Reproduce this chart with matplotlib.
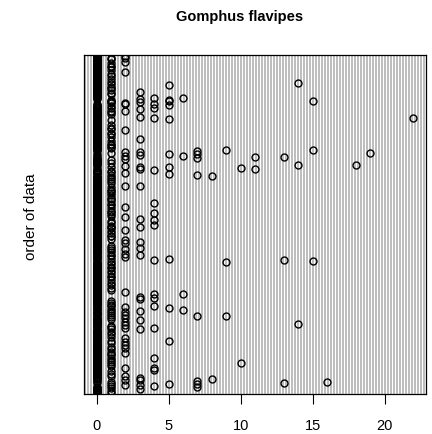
import matplotlib
matplotlib.use("Agg")
import matplotlib.pyplot as plt

plt.rcParams['font.family'] = ['Liberation Sans', 'DejaVu Sans']

# 0/1 counts for each row, bottom row first (rows listed in high_rows override these)
low_pattern = """
0010 0001 0000 1000 0010 0100 0001 0000 1001 0000 0100 0010 0000
1000 0010 0001 0000 0100 1000 0010 0001 0000 0100 1001 0000 0010
0001 0000 1000 0100 0010 0000 1001 0000 0100 0010 0000 1000 0101
0000 1000 0010 0001 0000 0100 1000 0010 0001 0010 0000 0100 1000
0100 0010 0000 1001 0000 0010 0100 0001 0000 1000 0100 0001 0000
0010 0000 0100 1000 0010 0001 0000 0100 1000 0010 0001 0000 1001
0000 0100 1000 0010 0001 0000 1000 0100 0010 0000 0101 0000 0010
1000 0010 0001 0000 0100 1001 0000 0010 0100 0001 0000 1000 0010
0001 0100 0000 1000 0010 0100 0001 0000 1001 0000 0100 0010 0001
0100 0001 0010 0000 1000 0100 0010 0001 0000 1000 0010 0100 0000
0010 1000 0001 0000 0100 0010 1000 0000 0101 0000 1000 0010 0100
1001 0000 0100 0010 0000 1000 0001 0100 0000 0010 1000 0001 0000
0000 0010 1000 0100 0001 0000 0100 1000 0010 0001 0000 0100 1001
0100 1000 0000 0010 0100 0001 0000 1001 0000 0100 0010 0000 1000
0001 0000 0100 1000 0010 0000 1001 0000 0100 1000 0001 0010 0000
"""

# rows (1 = first observation) holding counts of 2 and more
high_rows = {
    2: [779, 773, 765, 741, 671, 668, 651, 609, 557, 549, 542, 525, 509, 479,
        431, 407, 378, 354, 347, 335, 323, 315, 234, 201, 189, 182, 174, 167,
        159, 152, 129, 120, 113, 105, 95, 60, 41, 33, 21],
    3: [696, 680, 672, 657, 638, 587, 558, 551, 524, 518, 480, 404, 384, 350,
        336, 320, 224, 219, 191, 170, 150, 36, 32, 20, 11],
    4: [683, 669, 660, 635, 516, 440, 416, 402, 389, 309, 231, 221, 203, 153,
        83, 59, 56, 18],
    5: [711, 677, 674, 665, 633, 554, 522, 506, 311, 197, 122, 23],
    6: [681, 548, 230, 194],
    7: [560, 552, 543, 504, 180, 30, 24, 17],
    8: [503, 35],
    9: [561, 305, 179],
    10: [521, 71],
    11: [546, 519],
    13: [545, 308, 26],
    14: [717, 527, 161],
    15: [675, 563, 306],
    16: [27],
    18: [528],
    19: [555],
    22: [636],
}

counts = [int(c) for c in "".join(low_pattern.split())]
for value, rows in high_rows.items():
    for r in rows:
        counts[r - 1] = value
n = len(counts)
order = list(range(1, n + 1))

fig = plt.figure(figsize=(4.32, 4.34), dpi=100)
ax = fig.add_axes([84 / 432, 40 / 434, 342 / 432, 339 / 434])

xmin, xmax = -0.88, 22.88
# dotted guide line for every row, like dotchart()
ax.hlines(order, xmin, xmax, colors='#bebebe', linewidth=0.72,
          linestyles=(0, (1.5, 1.5)), antialiased=False, zorder=1)
ax.plot(counts, order, 'o', ms=5.0, mfc='none', mec='black', mew=1.0,
        linestyle='none', zorder=2)

ax.set_xlim(xmin, xmax)
ax.set_ylim(0, n + 1)
ax.set_xticks([0, 5, 10, 15, 20])
ax.set_yticks([])
ax.tick_params(axis='x', length=7, width=0.8, pad=11, labelsize=10.5)
for s in ax.spines.values():
    s.set_linewidth(0.9)

fig.text(240 / 432, 1 - 21 / 434, 'Gomphus flavipes', ha='center',
         va='baseline', fontsize=10.5, fontweight='bold')
fig.text(31 / 432, 1 - 217 / 434, 'order of data', rotation=90,
         ha='center', va='center', fontsize=11)

fig.savefig('out.png', dpi=100)
